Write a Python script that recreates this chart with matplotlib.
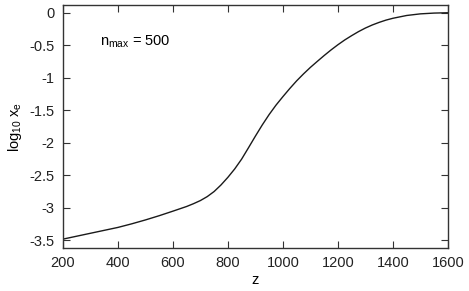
import matplotlib
matplotlib.use("Agg")
import matplotlib.pyplot as plt

plt.rcParams['font.family'] = ['Liberation Sans', 'DejaVu Sans']
plt.rcParams['axes.unicode_minus'] = False
plt.rcParams['mathtext.fontset'] = 'custom'
plt.rcParams['mathtext.rm'] = 'Liberation Sans'
plt.rcParams['mathtext.it'] = 'Liberation Sans'

z = [200, 250, 300, 350, 400, 450, 500, 550, 600, 650, 675, 700, 725, 750, 775,
     800, 825, 850, 875, 900, 925, 950, 975, 1000, 1025, 1050, 1075, 1100,
     1125, 1150, 1175, 1200, 1225, 1250, 1275, 1300, 1325, 1350, 1375, 1400,
     1450, 1500, 1550, 1600]
log_xe = [-3.48, -3.435, -3.39, -3.345, -3.30, -3.245, -3.185, -3.12, -3.05,
          -2.978, -2.935, -2.887, -2.826, -2.748, -2.647, -2.53, -2.40, -2.25,
          -2.075, -1.897, -1.725, -1.565, -1.42, -1.29, -1.165, -1.047, -0.94,
          -0.84, -0.748, -0.658, -0.572, -0.492, -0.418, -0.352, -0.29, -0.235,
          -0.188, -0.148, -0.113, -0.085, -0.042, -0.017, -0.005, 0.0]
xticks = [200, 400, 600, 800, 1000, 1200, 1400, 1600]
yticks = [0, -0.5, -1, -1.5, -2, -2.5, -3, -3.5]
ytick_labels = ['0', '-0.5', '-1', '-1.5', '-2', '-2.5', '-3', '-3.5']

fig = plt.figure(figsize=(4.69, 2.91), dpi=100)
ax = fig.add_axes([0.134, 0.148, 0.821, 0.835])
ax.plot(z, log_xe, color='#1a1a1a', lw=1.0)
ax.set_xlim(200, 1600)
ax.set_ylim(-3.615, 0.12)
ax.set_xticks(xticks)
ax.set_yticks(yticks)
ax.set_yticklabels(ytick_labels)
ax.tick_params(direction='in', top=True, right=True, length=5, width=0.8,
               labelsize=10.5, colors='#333333', pad=6)
for lab in ax.get_xticklabels() + ax.get_yticklabels():
    lab.set_color('#222222')
for s in ax.spines.values():
    s.set_linewidth(1.0)
    s.set_color('#333333')
ax.set_xlabel('z', fontsize=10.5, labelpad=2)
ax.set_ylabel(r'log$_{10}$ x$_{e}$', fontsize=10.5, labelpad=4)
ax.text(335, -0.45, r'n$_{max}$ = 500', fontsize=10.5, va='center', ha='left')
fig.savefig('out.png', dpi=100)
